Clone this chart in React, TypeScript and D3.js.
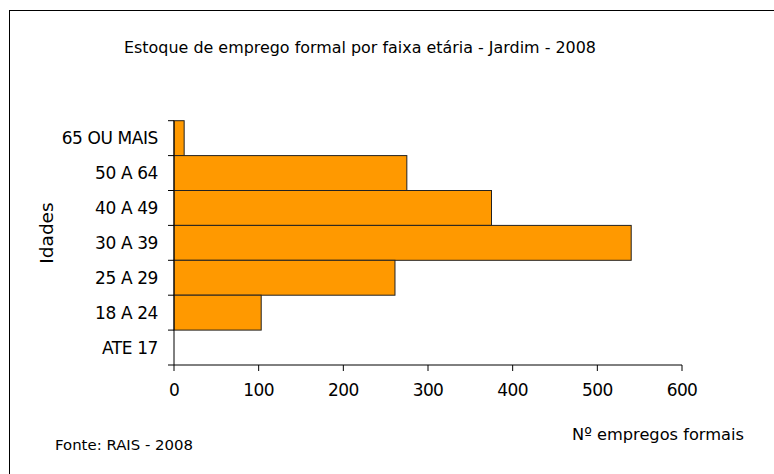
import React from "react";
import * as d3 from "d3";

const categories = ["65 OU MAIS", "50 A 64", "40 A 49", "30 A 39", "25 A 29", "18 A 24", "ATE 17"];
const values = [12, 275, 375, 540, 261, 103, 0];
const xTicks = [0, 100, 200, 300, 400, 500, 600];
const title = "Estoque de emprego formal por faixa etária - Jardim - 2008";
const yTitle = "Idades";
const xTitle = "Nº empregos formais";
const source = "Fonte: RAIS - 2008";

const W = 774;
const H = 474;
const plot = { left: 174, right: 682, top: 120.7, bottom: 365 };
const FONT = "'DejaVu Sans', sans-serif";

export default function App() {
  const x = d3.scaleLinear().domain([0, 600]).range([plot.left, plot.right]);
  const y = d3
    .scaleBand<string>()
    .domain(categories)
    .range([plot.top, plot.bottom])
    .paddingInner(0)
    .paddingOuter(0);
  const bw = y.bandwidth();
  const boundaries = categories.map((c) => y(c)!).concat([plot.bottom]);

  return (
    <svg
      width={W}
      height={H}
      style={{ position: "absolute", left: 0, top: 0, background: "#fff" }}
      fontFamily={FONT}
    >
      <rect x={0} y={0} width={W} height={H} fill="#fff" />
      <rect x={9.5} y={10.5} width={W + 20} height={H + 20} fill="none" stroke="#000" strokeWidth={1} />

      <text x={124} y={53} fontSize={16.5} fill="#000" textLength={472} lengthAdjust="spacingAndGlyphs">
        {title}
      </text>

      {/* bars */}
      {categories.map((c, i) =>
        values[i] > 0 ? (
          <rect
            key={c}
            x={x(0)}
            y={y(c)!}
            width={x(values[i]) - x(0)}
            height={bw}
            fill="#FF9900"
            stroke="#222"
            strokeWidth={1}
          />
        ) : null
      )}

      {/* y axis */}
      <line x1={plot.left} x2={plot.left} y1={plot.top} y2={plot.bottom} stroke="#000" />
      {boundaries.map((b, i) => (
        <line key={i} x1={plot.left - 6} x2={plot.left} y1={b} y2={b} stroke="#000" />
      ))}
      {categories.map((c) => (
        <text
          key={c}
          x={158}
          y={y(c)! + bw / 2 + 6}
          fontSize={17}
          textAnchor="end"
          fill="#000"
          letterSpacing={-0.4}
        >
          {c}
        </text>
      ))}

      {/* x axis */}
      <line x1={plot.left} x2={plot.right} y1={plot.bottom} y2={plot.bottom} stroke="#000" />
      {xTicks.map((t) => (
        <g key={t}>
          <line x1={x(t)} x2={x(t)} y1={plot.bottom} y2={plot.bottom + 6} stroke="#000" />
          <text x={x(t)} y={396} fontSize={17} textAnchor="middle" fill="#000" letterSpacing={-0.6}>
            {t}
          </text>
        </g>
      ))}

      <text
        transform={`translate(53,233) rotate(-90)`}
        fontSize={18.5}
        textAnchor="middle"
        fill="#000"
      >
        {yTitle}
      </text>

      <text x={572} y={440} fontSize={16.5} fill="#000" textLength={172} lengthAdjust="spacingAndGlyphs">
        {xTitle}
      </text>

      <text x={55} y={450} fontSize={14} fill="#000" textLength={138} lengthAdjust="spacingAndGlyphs">
        {source}
      </text>
    </svg>
  );
}
